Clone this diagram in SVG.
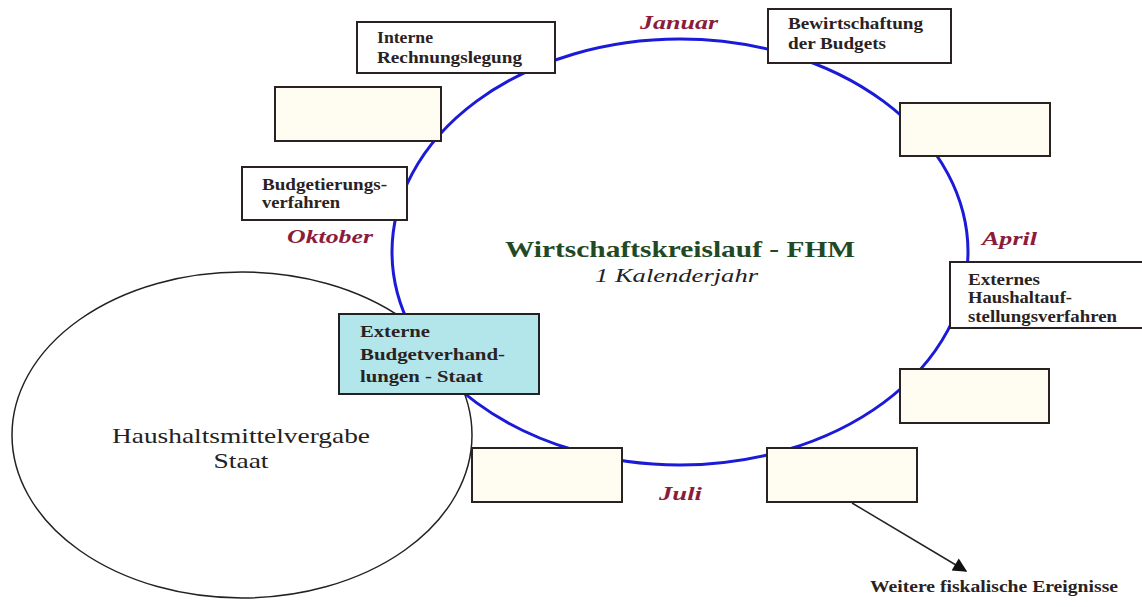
<svg xmlns="http://www.w3.org/2000/svg" width="1142" height="607" viewBox="0 0 1142 607">
<style>
.box{fill:#ffffff;stroke:#2a2222;stroke-width:2}
.empty{fill:#fffdf1;stroke:#2a2222;stroke-width:2}
.cyan{fill:#b3e6ea;stroke:#222;stroke-width:2}
.bt{font-family:"Liberation Serif",serif;font-weight:bold;font-size:16px;fill:#2a2222}
.month{font-family:"Liberation Serif",serif;font-weight:bold;font-style:italic;font-size:19px;fill:#8c1c3c}
.title{font-family:"Liberation Serif",serif;font-weight:bold;font-size:23px;fill:#1f4a25}
.sub{font-family:"Liberation Serif",serif;font-style:italic;font-size:19px;fill:#222}
.big{font-family:"Liberation Serif",serif;font-size:21px;fill:#222}
</style>
<defs>
<marker id="ah" viewBox="0 0 10 10" refX="9" refY="5" markerWidth="16" markerHeight="14" orient="auto" markerUnits="userSpaceOnUse">
<path d="M0,0 L10,5 L0,10 z" fill="#111"/>
</marker>
</defs>
<rect width="1142" height="607" fill="#ffffff"/>
<g id="staat">
<ellipse cx="242" cy="435" rx="230" ry="163" fill="none" stroke="#222" stroke-width="1.5"/>
<text class="big" x="241" y="443" text-anchor="middle" textLength="258" lengthAdjust="spacingAndGlyphs">Haushaltsmittelvergabe</text>
<text class="big" x="241" y="468" text-anchor="middle" textLength="55" lengthAdjust="spacingAndGlyphs">Staat</text>
</g>
<g id="connectors">
<ellipse cx="680" cy="252" rx="288" ry="213" fill="none" stroke="#1a1ad8" stroke-width="3"/>
<line x1="852" y1="503" x2="966" y2="571" stroke="#222" stroke-width="1.5" marker-end="url(#ah)"/>
</g>
<g id="center">
<text class="title" x="505" y="257" textLength="350" lengthAdjust="spacingAndGlyphs">Wirtschaftskreislauf - FHM</text>
<text class="sub" x="595" y="282" textLength="163" lengthAdjust="spacingAndGlyphs">1 Kalenderjahr</text>
</g>
<g id="months">
<text class="month" x="640" y="29" textLength="78" lengthAdjust="spacingAndGlyphs">Januar</text>
<text class="month" x="287" y="243" textLength="86" lengthAdjust="spacingAndGlyphs">Oktober</text>
<text class="month" x="982" y="245" textLength="55" lengthAdjust="spacingAndGlyphs">April</text>
<text class="month" x="659" y="500" textLength="43" lengthAdjust="spacingAndGlyphs">Juli</text>
</g>
<g id="n-interne">
<rect class="box" x="357" y="22" width="198" height="51"/>
<text class="bt" x="377" y="43" textLength="56" lengthAdjust="spacingAndGlyphs">Interne</text>
<text class="bt" x="377" y="63" textLength="145" lengthAdjust="spacingAndGlyphs">Rechnungslegung</text>
</g>
<g id="n-empty1"><rect class="empty" x="275" y="87" width="166" height="54"/></g>
<g id="n-budgetierung">
<rect class="box" x="242" y="167" width="165" height="53"/>
<text class="bt" x="262" y="190" textLength="125" lengthAdjust="spacingAndGlyphs">Budgetierungs-</text>
<text class="bt" x="262" y="208" textLength="78" lengthAdjust="spacingAndGlyphs">verfahren</text>
</g>
<g id="n-bewirtschaftung">
<rect class="box" x="768" y="9" width="183" height="54"/>
<text class="bt" x="788" y="29" textLength="135" lengthAdjust="spacingAndGlyphs">Bewirtschaftung</text>
<text class="bt" x="788" y="49" textLength="98" lengthAdjust="spacingAndGlyphs">der Budgets</text>
</g>
<g id="n-empty2"><rect class="empty" x="900" y="103" width="150" height="53"/></g>
<g id="n-extern-haushalt">
<rect class="box" x="950" y="262" width="200" height="66"/>
<text class="bt" x="968" y="285" textLength="72" lengthAdjust="spacingAndGlyphs">Externes</text>
<text class="bt" x="968" y="303" textLength="104" lengthAdjust="spacingAndGlyphs">Haushaltauf-</text>
<text class="bt" x="968" y="322" textLength="149" lengthAdjust="spacingAndGlyphs">stellungsverfahren</text>
</g>
<g id="n-empty3"><rect class="empty" x="900" y="369" width="149" height="54"/></g>
<g id="n-extern-budget">
<rect class="cyan" x="339" y="314" width="200" height="80"/>
<text class="bt" x="360" y="337" textLength="70" lengthAdjust="spacingAndGlyphs">Externe</text>
<text class="bt" x="360" y="360" textLength="145" lengthAdjust="spacingAndGlyphs">Budgetverhand-</text>
<text class="bt" x="360" y="382" textLength="123" lengthAdjust="spacingAndGlyphs">lungen - Staat</text>
</g>
<g id="n-empty4"><rect class="empty" x="472" y="448" width="150" height="54"/></g>
<g id="n-empty5"><rect class="empty" x="767" y="448" width="150" height="54"/></g>
<g id="n-weitere">
<text class="bt" x="870" y="592" font-size="14" textLength="248" lengthAdjust="spacingAndGlyphs">Weitere fiskalische Ereignisse</text>
</g>
</svg>
